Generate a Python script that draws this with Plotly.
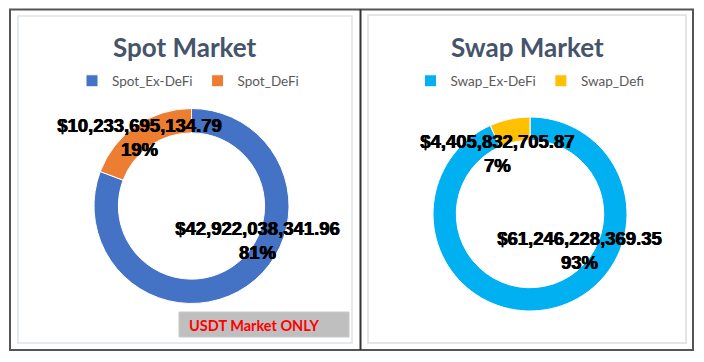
import plotly.graph_objects as go

W, H = 704, 362

spot_labels = ["Spot_Ex-DeFi", "Spot_DeFi"]
spot_values = [42922038341.96, 10233695134.79]
spot_colors = ["#4472C4", "#ED7D31"]

swap_labels = ["Swap_Ex-DeFi", "Swap_Defi"]
swap_values = [61246228369.35, 4405832705.87]
swap_colors = ["#00B0F0", "#FFC000"]

titles = ["Spot Market", "Swap Market"]
note_text = "USDT Market ONLY"


def px(x):
    return x / W


def py(y):
    return 1 - y / H


fig = go.Figure()

fig.add_trace(go.Pie(
    labels=spot_labels, values=spot_values, hole=0.75, sort=False,
    direction="clockwise", rotation=0,
    marker=dict(colors=spot_colors, line=dict(color="white", width=1)),
    textinfo="none", hoverinfo="label+value+percent",
    domain=dict(x=[px(94), px(289)], y=[py(304), py(108)]),
    legend="legend",
))
fig.add_trace(go.Pie(
    labels=swap_labels, values=swap_values, hole=0.76, sort=False,
    direction="clockwise", rotation=0,
    marker=dict(colors=swap_colors, line=dict(color="white", width=1)),
    textinfo="none", hoverinfo="label+value+percent",
    domain=dict(x=[px(433), px(627)], y=[py(311), py(117)]),
    legend="legend2",
))

shapes = [
    dict(type="rect", xref="paper", yref="paper", x0=px(18), x1=px(352), y0=py(343), y1=py(16),
         line=dict(color="#DDE3EA", width=1.5)),
    dict(type="rect", xref="paper", yref="paper", x0=px(368), x1=px(686), y0=py(343), y1=py(15),
         line=dict(color="#DDDDDD", width=1.5)),
    dict(type="rect", xref="paper", yref="paper", x0=px(10), x1=px(693), y0=py(350), y1=py(9.5),
         line=dict(color="#555555", width=2)),
    dict(type="line", xref="paper", yref="paper", x0=px(360.5), x1=px(360.5), y0=py(350), y1=py(9.5),
         line=dict(color="#333333", width=2)),
    dict(type="rect", xref="paper", yref="paper", x0=px(179), x1=px(349), y0=py(337), y1=py(312),
         line=dict(color="#C8C8C8", width=1), fillcolor="#BFBFBF"),
]

annotations = []
title_pos = [(185, 47), (527, 47)]
for t, (x, y) in zip(titles, title_pos):
    annotations.append(dict(x=px(x), y=py(y), xref="paper", yref="paper", text=f"<b>{t}</b>",
                            showarrow=False, xanchor="center", yanchor="middle",
                            font=dict(family="Lato", size=26, color="#44546A")))


def lab(v, total):
    return f"<b>${v:,.2f}<br>{round(100 * v / total)}%</b>"


label_font = dict(family="Liberation Sans, Arial", size=18.5, color="black",
                  shadow="0.7px 0 0 black, 0 0.4px 0 black")
spot_total = sum(spot_values)
swap_total = sum(swap_values)
label_pos = [
    (spot_values[0], spot_total, 257, 240),
    (spot_values[1], spot_total, 139, 137),
    (swap_values[0], swap_total, 579, 251),
    (swap_values[1], swap_total, 497, 153),
]
for v, tot, x, y in label_pos:
    annotations.append(dict(x=px(x), y=py(y), xref="paper", yref="paper", text=lab(v, tot),
                            showarrow=False, xanchor="center", yanchor="middle", align="center",
                            font=label_font))

annotations.append(dict(x=px(253.5), y=py(325), xref="paper", yref="paper", text=f"<b>{note_text}</b>",
                        showarrow=False, xanchor="center", yanchor="middle",
                        font=dict(family="Lato", size=14.5, color="#FF0000")))

legend_font = dict(family="Lato", size=13.5, color="#595959")
fig.update_layout(
    width=W, height=H,
    margin=dict(l=0, r=0, t=0, b=0),
    paper_bgcolor="white", plot_bgcolor="white",
    shapes=shapes, annotations=annotations,
    legend=dict(orientation="h", x=px(188), y=py(81), xanchor="center", yanchor="middle",
                font=legend_font, itemwidth=30, bgcolor="rgba(0,0,0,0)", traceorder="normal"),
    legend2=dict(orientation="h", x=px(530), y=py(81), xanchor="center", yanchor="middle",
                 font=legend_font, itemwidth=30, bgcolor="rgba(0,0,0,0)", traceorder="normal"),
)

fig.write_html("out.html", config={"displayModeBar": False},
               post_script="document.body.style.margin='0';document.body.style.overflow='hidden';")
